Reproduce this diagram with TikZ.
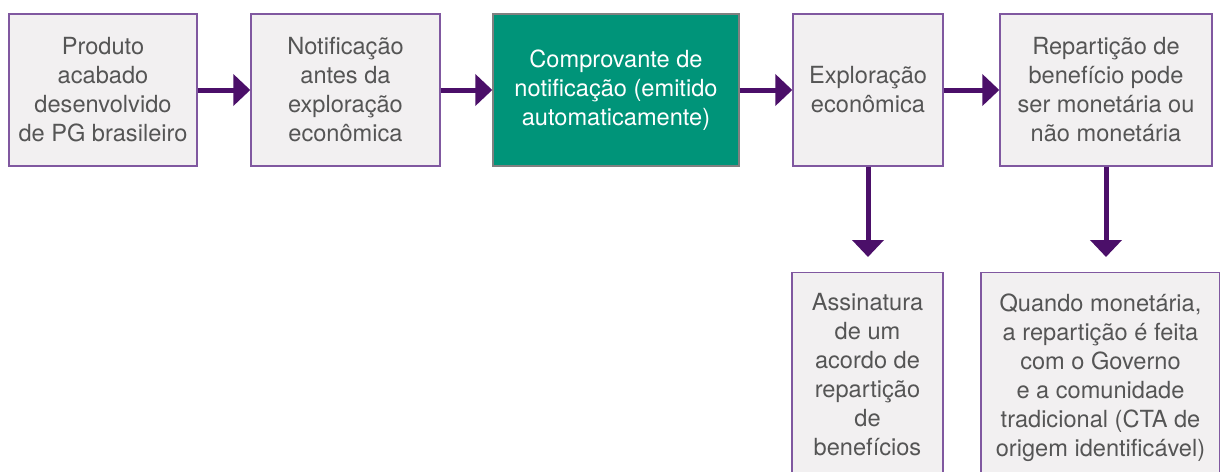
\documentclass[tikz,border=0pt]{standalone}
\usepackage{fontspec}
\setmainfont{TeX Gyre Heros}
\usepackage{xcolor}
\usetikzlibrary{arrows.meta}

\definecolor{boxfill}{RGB}{242,240,241}
\definecolor{boxline}{RGB}{128,88,160}
\definecolor{arrowcol}{RGB}{75,15,105}
\definecolor{greenfill}{RGB}{0,148,121}
\definecolor{textgray}{RGB}{85,85,85}

\tikzset{
  stepbox/.style={draw=boxline, fill=boxfill, line width=0.7pt, text=textgray,
    align=center, inner sep=0pt, minimum height=76pt,
    font=\fontsize{11.8pt}{14.5pt}\selectfont},
  keybox/.style={stepbox, draw=gray, fill=greenfill, text=white},
  lowbox/.style={stepbox, anchor=north, minimum height=0pt, inner ysep=10.5pt, text depth=120pt},
  flow/.style={draw=arrowcol, line width=2.5pt,
    -{Triangle[width=15.5pt,length=8.5pt]}}
}

\begin{document}
\begin{tikzpicture}[x=0.5pt,y=-0.5pt]
\useasboundingbox (0,0) rectangle (1220,471);

\node[stepbox, minimum width=94pt] (prod) at (103,90) {Produto\\acabado\\desenvolvido\\de PG brasileiro};
\node[stepbox, minimum width=94.5pt] (notif) at (345.5,90) {Notificação\\antes da\\exploração\\econômica};
\node[keybox, minimum width=123pt] (comp) at (616,90) {Comprovante de\\notificação (emitido\\automaticamente)};
\node[stepbox, minimum width=75pt] (expl) at (868,90) {Exploração\\econômica};
\node[stepbox, minimum width=106pt] (repart) at (1106,90) {Repartição de\\benefício pode\\ser monetária ou\\não monetária};

\node[lowbox, minimum width=75.5pt] (acordo) at (867.5,272) {Assinatura\\de um\\acordo de\\repartição\\de\\benefícios};
\node[lowbox, minimum width=119.5pt] (quando) at (1100.5,272) {Quando monetária,\\a repartição é feita\\com o Governo\\e a comunidade\\tradicional (CTA de\\origem identificável)};

\draw[flow] (prod) -- (notif);
\draw[flow] (notif) -- (comp);
\draw[flow] (comp) -- (expl);
\draw[flow] (expl) -- (repart);

\draw[flow, shorten >=7.5pt] (expl.south) -- (expl.south |- acordo.north);
\draw[flow, shorten >=7.5pt] (repart.south) -- (repart.south |- quando.north);

\end{tikzpicture}
\end{document}
